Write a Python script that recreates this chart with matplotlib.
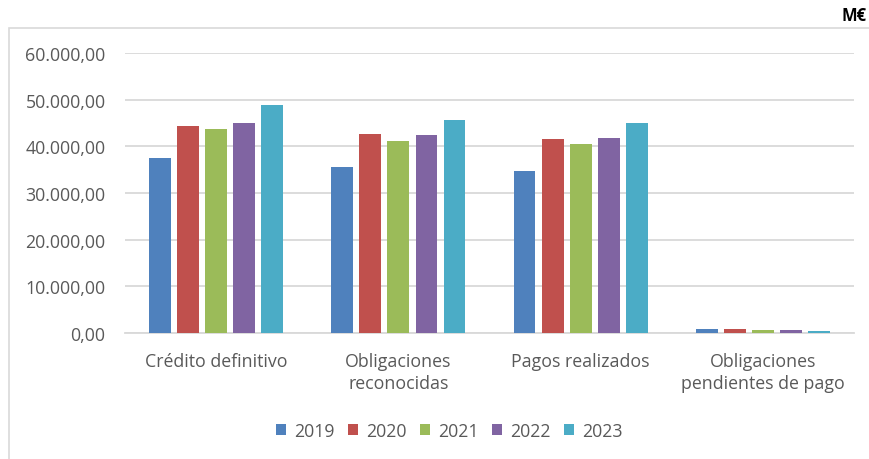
import matplotlib
matplotlib.use("Agg")
from matplotlib import pyplot as plt
from matplotlib.patches import Rectangle
from matplotlib.ticker import FuncFormatter
import numpy as np

# Data (millions of euros)
categories = ["Crédito definitivo", "Obligaciones\nreconocidas",
              "Pagos realizados", "Obligaciones\npendientes de pago"]
years = ["2019", "2020", "2021", "2022", "2023"]
v2019 = [37500, 35500, 34750, 750]
v2020 = [44350, 42550, 41550, 800]
v2021 = [43750, 41150, 40400, 550]
v2022 = [45050, 42400, 41800, 550]
v2023 = [48950, 45550, 44950, 500]
series = [v2019, v2020, v2021, v2022, v2023]
colors = ["#4F81BD", "#C0504D", "#9BBB59", "#8064A2", "#4BACC6"]

text_color = "#595959"
grid_color = "#D9D9D9"
plt.rcParams["font.family"] = ["Open Sans", "DejaVu Sans"]

fig = plt.figure(figsize=(8.69, 4.60), dpi=100)
ax = fig.add_axes([0.1438, 0.274, 0.839, 0.6087])

# outer chart frame (runs off the right and bottom edges like the original)
fig.patches.append(Rectangle((9 / 869, -0.05), 1.0, 1 - 28.5 / 460 + 0.05,
                             transform=fig.transFigure, fill=False,
                             edgecolor=grid_color, linewidth=1.2))

x = np.arange(len(categories))
pitch = 0.154
width = 0.12
for i, (vals, year, col) in enumerate(zip(series, years, colors)):
    ax.bar(x + (i - 2) * pitch, vals, width, color=col, label=year, zorder=3)

ax.set_xlim(-0.5, len(categories) - 0.5)
ax.set_ylim(0, 60000)
ax.set_yticks(np.arange(0, 60001, 10000))


def es_fmt(v, pos):
    return f"{v:,.2f}".replace(",", "X").replace(".", ",").replace("X", ".")


ax.yaxis.set_major_formatter(FuncFormatter(es_fmt))
ax.set_xticks(x)
ax.set_xticklabels(categories, linespacing=1.25)
ax.tick_params(axis="y", length=0, pad=14, labelsize=12.8, labelcolor=text_color)
ax.tick_params(axis="x", length=0, pad=14, labelsize=12.8, labelcolor=text_color)
ax.grid(axis="y", color=grid_color, linewidth=1.3, zorder=0)
for s in ["top", "right", "left"]:
    ax.spines[s].set_visible(False)
ax.spines["bottom"].set_color(grid_color)
ax.spines["bottom"].set_linewidth(1.3)

fig.text(0.997, 0.965, "M€", ha="right", va="center", fontsize=12,
         fontweight="bold", color="black")

fig.legend(loc="center", bbox_to_anchor=(0.517, 0.061), ncol=5, frameon=False,
           fontsize=12.8, labelcolor=text_color, handlelength=0.6,
           handleheight=0.6, handletextpad=0.45, columnspacing=0.72)

fig.savefig("out.png", dpi=100)
